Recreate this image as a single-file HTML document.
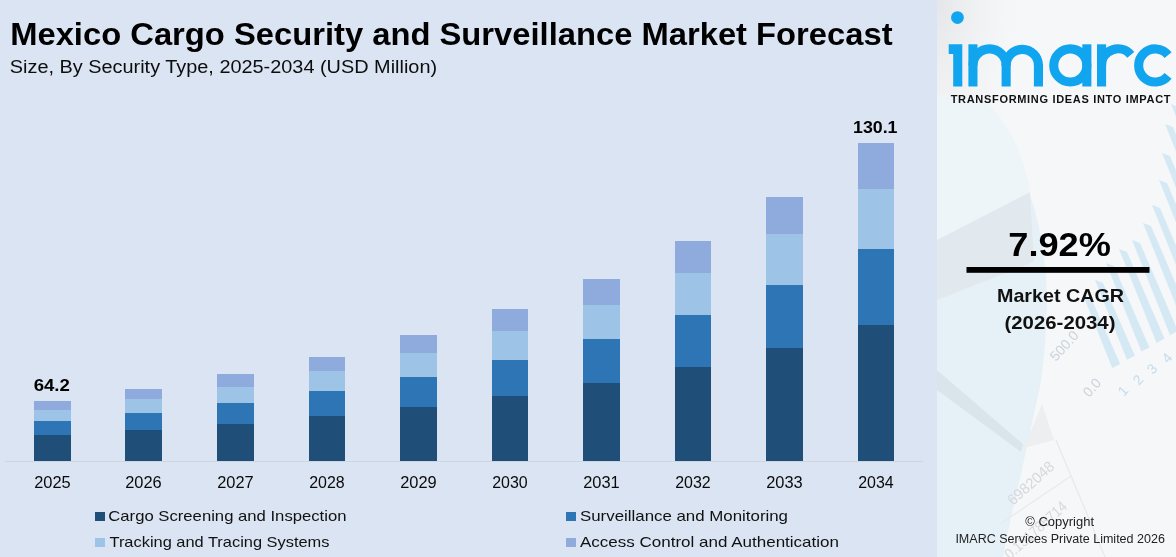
<!DOCTYPE html>
<html><head><meta charset="utf-8">
<style>
html,body{margin:0;padding:0;width:1176px;height:557px;overflow:hidden;background:#dbe4f2;}
svg{display:block;font-family:"Liberation Sans",sans-serif;will-change:transform;}
.yr{font-size:16px;fill:#0a0a0a;}
.lg{font-size:15px;fill:#111;}
</style></head><body>
<svg width="1176" height="557" viewBox="0 0 1176 557">
<defs>
<linearGradient id="pg" x1="0" y1="0" x2="1" y2="0">
<stop offset="0" stop-color="#e4eff6"/><stop offset="0.45" stop-color="#eef4f8"/><stop offset="1" stop-color="#f6f7f9"/>
</linearGradient>
<radialGradient id="pg2" cx="0" cy="0" r="1" gradientUnits="objectBoundingBox">
<stop offset="0" stop-color="#dfe2e5" stop-opacity="0.8"/><stop offset="0.35" stop-color="#eef0f2" stop-opacity="0"/>
</radialGradient>
</defs>
<rect x="0" y="0" width="1176" height="557" fill="#dbe4f2"/>
<text x="10.2" y="44.8" font-size="31.5" font-weight="bold" fill="#000" textLength="882.4" lengthAdjust="spacingAndGlyphs">Mexico Cargo Security and Surveillance Market Forecast</text>
<text x="9.8" y="73.3" font-size="18" fill="#0d0d0d" textLength="427.3" lengthAdjust="spacingAndGlyphs">Size, By Security Type, 2025-2034 (USD Million)</text>
<rect x="5" y="461" width="918" height="1" fill="#cfd5de"/>
<rect x="34" y="401" width="37" height="9" fill="#8faadc"/>
<rect x="34" y="410" width="37" height="11" fill="#9dc3e6"/>
<rect x="34" y="421" width="37" height="14" fill="#2e75b6"/>
<rect x="34" y="435" width="37" height="26" fill="#1f4e79"/>
<rect x="125" y="389" width="37" height="10" fill="#8faadc"/>
<rect x="125" y="399" width="37" height="14" fill="#9dc3e6"/>
<rect x="125" y="413" width="37" height="17" fill="#2e75b6"/>
<rect x="125" y="430" width="37" height="31" fill="#1f4e79"/>
<rect x="217" y="374" width="37" height="13" fill="#8faadc"/>
<rect x="217" y="387" width="37" height="16" fill="#9dc3e6"/>
<rect x="217" y="403" width="37" height="21" fill="#2e75b6"/>
<rect x="217" y="424" width="37" height="37" fill="#1f4e79"/>
<rect x="309" y="357" width="36" height="14" fill="#8faadc"/>
<rect x="309" y="371" width="36" height="20" fill="#9dc3e6"/>
<rect x="309" y="391" width="36" height="25" fill="#2e75b6"/>
<rect x="309" y="416" width="36" height="45" fill="#1f4e79"/>
<rect x="400" y="335" width="37" height="18" fill="#8faadc"/>
<rect x="400" y="353" width="37" height="24" fill="#9dc3e6"/>
<rect x="400" y="377" width="37" height="30" fill="#2e75b6"/>
<rect x="400" y="407" width="37" height="54" fill="#1f4e79"/>
<rect x="492" y="309" width="36" height="22" fill="#8faadc"/>
<rect x="492" y="331" width="36" height="29" fill="#9dc3e6"/>
<rect x="492" y="360" width="36" height="36" fill="#2e75b6"/>
<rect x="492" y="396" width="36" height="65" fill="#1f4e79"/>
<rect x="583" y="279" width="37" height="26" fill="#8faadc"/>
<rect x="583" y="305" width="37" height="34" fill="#9dc3e6"/>
<rect x="583" y="339" width="37" height="44" fill="#2e75b6"/>
<rect x="583" y="383" width="37" height="78" fill="#1f4e79"/>
<rect x="675" y="241" width="36" height="32" fill="#8faadc"/>
<rect x="675" y="273" width="36" height="42" fill="#9dc3e6"/>
<rect x="675" y="315" width="36" height="52" fill="#2e75b6"/>
<rect x="675" y="367" width="36" height="94" fill="#1f4e79"/>
<rect x="766" y="197" width="37" height="37" fill="#8faadc"/>
<rect x="766" y="234" width="37" height="51" fill="#9dc3e6"/>
<rect x="766" y="285" width="37" height="63" fill="#2e75b6"/>
<rect x="766" y="348" width="37" height="113" fill="#1f4e79"/>
<rect x="858" y="143" width="36" height="46" fill="#8faadc"/>
<rect x="858" y="189" width="36" height="60" fill="#9dc3e6"/>
<rect x="858" y="249" width="36" height="76" fill="#2e75b6"/>
<rect x="858" y="325" width="36" height="136" fill="#1f4e79"/>
<text x="34.2" y="488" class="yr" textLength="36.5" lengthAdjust="spacingAndGlyphs">2025</text>
<text x="125.2" y="488" class="yr" textLength="36.5" lengthAdjust="spacingAndGlyphs">2026</text>
<text x="217.2" y="488" class="yr" textLength="36.5" lengthAdjust="spacingAndGlyphs">2027</text>
<text x="309.2" y="488" class="yr" textLength="35.5" lengthAdjust="spacingAndGlyphs">2028</text>
<text x="400.2" y="488" class="yr" textLength="36.5" lengthAdjust="spacingAndGlyphs">2029</text>
<text x="492.2" y="488" class="yr" textLength="35.5" lengthAdjust="spacingAndGlyphs">2030</text>
<text x="583.2" y="488" class="yr" textLength="36.5" lengthAdjust="spacingAndGlyphs">2031</text>
<text x="675.2" y="488" class="yr" textLength="35.5" lengthAdjust="spacingAndGlyphs">2032</text>
<text x="766.2" y="488" class="yr" textLength="36.5" lengthAdjust="spacingAndGlyphs">2033</text>
<text x="858.2" y="488" class="yr" textLength="35.5" lengthAdjust="spacingAndGlyphs">2034</text>
<text x="33.7" y="391" font-size="16.5" font-weight="bold" fill="#000" textLength="36.2" lengthAdjust="spacingAndGlyphs">64.2</text>
<text x="853" y="133" font-size="16.5" font-weight="bold" fill="#000" textLength="44.5" lengthAdjust="spacingAndGlyphs">130.1</text>
<rect x="95" y="512" width="10" height="9" fill="#1f4e79"/>
<text x="108.3" y="521" class="lg" textLength="238.2" lengthAdjust="spacingAndGlyphs">Cargo Screening and Inspection</text>
<rect x="95" y="538" width="10" height="9" fill="#9dc3e6"/>
<text x="109.5" y="546.5" class="lg" textLength="220" lengthAdjust="spacingAndGlyphs">Tracking and Tracing Systems</text>
<rect x="566" y="512" width="10" height="9" fill="#2e75b6"/>
<text x="580" y="521" class="lg" textLength="208" lengthAdjust="spacingAndGlyphs">Surveillance and Monitoring</text>
<rect x="566" y="538" width="10" height="9" fill="#8faadc"/>
<text x="580" y="546.5" class="lg" textLength="259" lengthAdjust="spacingAndGlyphs">Access Control and Authentication</text>
<rect x="937" y="0" width="239" height="557" fill="#f6f7f8"/>
<rect x="937" y="0" width="239" height="557" fill="url(#pg2)"/>
<path d="M937,240 L1030,195 Q1046,240 1047,300 Q1046,350 1040,387 Q1028,440 1022,470 Q1010,520 1003,557 L937,557 Z" fill="#e6f1f7"/>
<path d="M937,95 Q970,96 990,105 Q1022,140 1030,192 L937,240 Z" fill="#eef5f8"/>
<path d="M937,240 L1030,192 L1034,262 L937,300 Z" fill="#e1e9ee"/>
<polygon points="937,370 1023,444 1021,452 937,390" fill="#d9e4eb"/>
<text x="0" y="0" transform="translate(1013,506) rotate(-42)" font-size="15" fill="#d5d9dc" textLength="57" lengthAdjust="spacingAndGlyphs">6982048</text>
<text x="0" y="0" transform="translate(1010,560) rotate(-42)" font-size="15" fill="#d5d9dc" textLength="78" lengthAdjust="spacingAndGlyphs">0.151785714</text>
<polygon points="1042,404 1054,440 1024,448" fill="#eceef0"/>
<line x1="1056" y1="440" x2="1105" y2="557" stroke="#e3eaee" stroke-width="1.2"/>
<line x1="1000" y1="524" x2="1071" y2="476" stroke="#e6eaed" stroke-width="1.2"/>
<polygon points="1171,104 1179,107 1254.1,287.7 1246.1,291.7" fill="#cfe6f3" opacity="0.85"/>
<polygon points="1165,124 1173,127 1242.7,294.2 1234.7,298.2" fill="#cfe6f3" opacity="0.85"/>
<polygon points="1162,153 1170,156 1230.8,301.0 1222.8,305.0" fill="#cfe6f3" opacity="0.85"/>
<polygon points="1159,180 1167,183 1219.6,307.4 1211.6,311.4" fill="#cfe6f3" opacity="0.85"/>
<polygon points="1152,205 1160,208 1205.7,315.3 1197.7,319.3" fill="#cfe6f3" opacity="0.85"/>
<polygon points="1143,223 1151,226 1192.5,322.8 1184.5,326.8" fill="#cfe6f3" opacity="0.85"/>
<polygon points="1132,240 1140,243 1178.0,331.1 1170.0,335.1" fill="#cfe6f3" opacity="0.85"/>
<polygon points="1119,249 1127,252 1164.5,338.8 1156.5,342.8" fill="#cfe6f3" opacity="0.85"/>
<polygon points="1106,263 1114,266 1149.4,347.4 1141.4,351.4" fill="#cfe6f3" opacity="0.85"/>
<polygon points="1095,280 1103,283 1134.9,355.7 1126.9,359.7" fill="#cfe6f3" opacity="0.85"/>
<polygon points="1083,295 1091,298 1120.2,364.0 1112.2,368.0" fill="#cfe6f3" opacity="0.85"/>
<text x="0" y="0" transform="translate(1089,398) rotate(-48)" font-size="14" fill="#c9d3dc">0.0</text>
<text x="0" y="0" transform="translate(1056,362) rotate(-48)" font-size="14" fill="#c9d3dc">500.0</text>
<text x="0" y="0" transform="translate(1124,397) rotate(-48)" font-size="14" fill="#c3deec">1</text>
<text x="0" y="0" transform="translate(1139,386) rotate(-48)" font-size="14" fill="#c3deec">2</text>
<text x="0" y="0" transform="translate(1153,375) rotate(-48)" font-size="14" fill="#c3deec">3</text>
<text x="0" y="0" transform="translate(1168,364) rotate(-48)" font-size="14" fill="#c3deec">4</text>
<polygon points="948.7,44.3 962.3,44.3 962.3,86.5 953.2,86.5 953.2,54 948.7,54" fill="#12a5ef"/>
<rect x="968.4" y="44.3" width="9.1" height="42.2" fill="#12a5ef"/>
<path d="M972.9499999999999,65.45 A16.6,16.6 0 0 1 1006.15,65.45" fill="none" stroke="#12a5ef" stroke-width="9.1"/>
<rect x="1001.6" y="63.95" width="9.1" height="22.549999999999997" fill="#12a5ef"/>
<path d="M1006.15,65.45 A16.15,16.15 0 0 1 1038.45,65.45" fill="none" stroke="#12a5ef" stroke-width="9.1"/>
<rect x="1033.9" y="63.95" width="9.1" height="22.549999999999997" fill="#12a5ef"/>
<circle cx="1070.3" cy="65.45" r="16.55" fill="none" stroke="#12a5ef" stroke-width="9.1"/>
<rect x="1082.3" y="44.3" width="9.1" height="42.2" fill="#12a5ef"/>
<rect x="1097" y="44.3" width="9.1" height="42.2" fill="#12a5ef"/>
<path d="M1101.55,65.45 A16.55,16.55 0 0 1 1130.78,54.81" fill="none" stroke="#12a5ef" stroke-width="9.1"/>
<path d="M1168.06,55.03 A16.55,16.55 0 1 0 1168.06,75.87" fill="none" stroke="#12a5ef" stroke-width="9.1"/>
<circle cx="957.45" cy="17.57" r="6.4" fill="#12a5ef"/>
<text x="950.7" y="102.9" font-size="11" font-weight="bold" fill="#111" textLength="219.8" lengthAdjust="spacing">TRANSFORMING IDEAS INTO IMPACT</text>
<text x="1008.3" y="255.6" font-size="33" font-weight="bold" fill="#000" textLength="102.5" lengthAdjust="spacingAndGlyphs">7.92%</text>
<rect x="966.5" y="267" width="183" height="5.8" fill="#000"/>
<text x="997" y="302.3" font-size="19" font-weight="bold" fill="#111" textLength="127" lengthAdjust="spacingAndGlyphs">Market CAGR</text>
<text x="1004.5" y="328.8" font-size="19" font-weight="bold" fill="#111" textLength="111" lengthAdjust="spacingAndGlyphs">(2026-2034)</text>
<text x="1025.3" y="526.1" font-size="12" fill="#222" textLength="68.7" lengthAdjust="spacingAndGlyphs">© Copyright</text>
<text x="955.4" y="543" font-size="12.5" fill="#222" textLength="209.5" lengthAdjust="spacingAndGlyphs">IMARC Services Private Limited 2026</text>
</svg>
</body></html>
